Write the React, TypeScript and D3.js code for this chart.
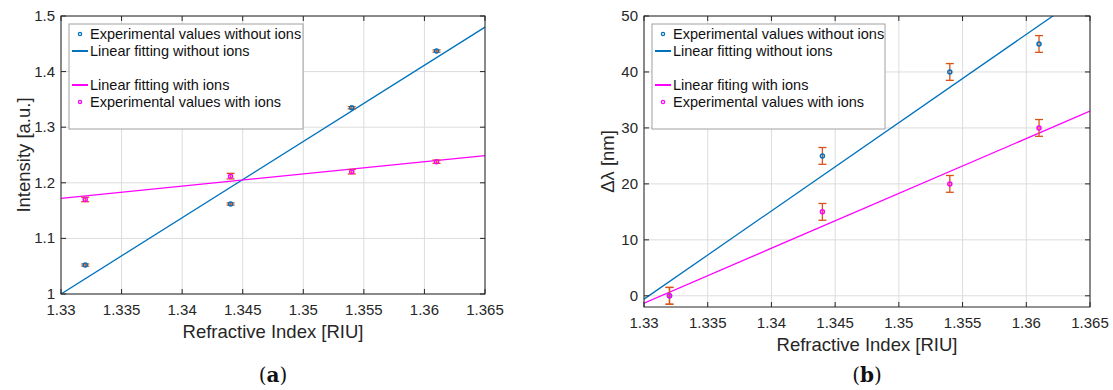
import * as d3 from 'd3';
import React from 'react';

// refractive index samples (shared by both panels)
const ri = [1.332, 1.344, 1.354, 1.361];

// panel (a): intensity
const intensityNoIons = [1.052, 1.162, 1.335, 1.437];
const intensityNoIonsErr = [0.002, 0.002, 0.002, 0.002];
const intensityIons = [1.17, 1.212, 1.22, 1.238];
const intensityIonsErr = [0.004, 0.005, 0.004, 0.003];
const fitIntensityNoIons = [1.0, 1.48];
const fitIntensityIons = [1.172, 1.249];

// panel (b): wavelength shift
const shiftNoIons = [0, 25, 40, 45];
const shiftIons = [0, 15, 20, 30];
const shiftErr = [1.5, 1.5, 1.5, 1.5];
const fitShiftNoIons = [-0.6, 54.6];
const fitShiftIons = [-1.3, 33];

const xTicks = [1.33, 1.335, 1.34, 1.345, 1.35, 1.355, 1.36, 1.365];
const yTicksA = [1, 1.1, 1.2, 1.3, 1.4, 1.5];
const yTicksB = [0, 10, 20, 30, 40, 50];

const legendA = ['Experimental values without ions', 'Linear fitting without ions', 'Linear fitting with ions', 'Experimental values with ions'];
const legendB = ['Experimental values without ions', 'Linear fitting without ions', 'Linear fiting with ions', 'Experimental values with ions'];

const BLUE = '#0072BD';
const MAGENTA = '#FF00FF';
const ORANGE = '#D95319';
const AXIS = '#262626';
const FONT = '"Liberation Sans", Arial, sans-serif';

type PanelProps = {
  left: number;
  right: number;
  top: number;
  bottom: number;
  yDomain: [number, number];
  yTicks: number[];
  ylabel: string;
  ylabelX: number;
  noIons: number[];
  noIonsErr: number[];
  ions: number[];
  ionsErr: number[];
  fitNo: number[];
  fitIons: number[];
  legend: string[];
  legendW: number;
  caption: string;
  clipId: string;
};

function Panel(p: PanelProps) {
  const x = d3.scaleLinear().domain([1.33, 1.365]).range([p.left, p.right]);
  const y = d3.scaleLinear().domain(p.yDomain).range([p.bottom, p.top]);
  const line = d3
    .line<[number, number]>()
    .x((d) => x(d[0]))
    .y((d) => y(d[1]));
  const cap = 4;

  const errorBars = (vals: number[], errs: number[]) =>
    ri.map((r, i) => {
      const cx = x(r);
      const y0 = y(vals[i] - errs[i]);
      const y1 = y(vals[i] + errs[i]);
      return (
        <g key={i} stroke={ORANGE} strokeWidth={1.3}>
          <line x1={cx} x2={cx} y1={y0} y2={y1} />
          <line x1={cx - cap} x2={cx + cap} y1={y0} y2={y0} />
          <line x1={cx - cap} x2={cx + cap} y1={y1} y2={y1} />
        </g>
      );
    });

  const markers = (vals: number[], color: string) =>
    ri.map((r, i) => <circle key={i} cx={x(r)} cy={y(vals[i])} r={2} fill="none" stroke={color} strokeWidth={1.5} />);

  const lx = p.left + 8;
  const ly = p.top + 8;
  const rows = [15, 32, 66, 83];

  return (
    <g>
      <defs>
        <clipPath id={p.clipId}>
          <rect x={p.left} y={p.top} width={p.right - p.left} height={p.bottom - p.top} />
        </clipPath>
      </defs>
      {/* grid */}
      <g stroke="#dcdcdc" strokeWidth={1}>
        {xTicks.map((t) => (
          <line key={'gx' + t} x1={x(t)} x2={x(t)} y1={p.top} y2={p.bottom} />
        ))}
        {p.yTicks.map((t) => (
          <line key={'gy' + t} x1={p.left} x2={p.right} y1={y(t)} y2={y(t)} />
        ))}
      </g>
      {/* fits */}
      <g clipPath={`url(#${p.clipId})`} fill="none" strokeWidth={1.3}>
        <path d={line([[1.33, p.fitNo[0]], [1.365, p.fitNo[1]]]) || ''} stroke={BLUE} />
        <path d={line([[1.33, p.fitIons[0]], [1.365, p.fitIons[1]]]) || ''} stroke={MAGENTA} />
      </g>
      {errorBars(p.noIons, p.noIonsErr)}
      {errorBars(p.ions, p.ionsErr)}
      {markers(p.noIons, BLUE)}
      {markers(p.ions, MAGENTA)}
      {/* axes box with inward ticks */}
      <rect x={p.left} y={p.top} width={p.right - p.left} height={p.bottom - p.top} fill="none" stroke={AXIS} strokeWidth={1} />
      <g stroke={AXIS} strokeWidth={1}>
        {xTicks.map((t) => (
          <g key={'tx' + t}>
            <line x1={x(t)} x2={x(t)} y1={p.bottom} y2={p.bottom - 5} />
            <line x1={x(t)} x2={x(t)} y1={p.top} y2={p.top + 5} />
          </g>
        ))}
        {p.yTicks.map((t) => (
          <g key={'ty' + t}>
            <line x1={p.left} x2={p.left + 5} y1={y(t)} y2={y(t)} />
            <line x1={p.right} x2={p.right - 5} y1={y(t)} y2={y(t)} />
          </g>
        ))}
      </g>
      <g fill={AXIS} fontFamily={FONT} fontSize={15}>
        {xTicks.map((t) => (
          <text key={'lx' + t} x={x(t)} y={p.bottom + 21} textAnchor="middle">
            {String(t)}
          </text>
        ))}
        {p.yTicks.map((t) => (
          <text key={'ly' + t} x={p.left - 6} y={y(t) + 5} textAnchor="end">
            {String(t)}
          </text>
        ))}
        <text x={(p.left + p.right) / 2} y={p.bottom + 44} textAnchor="middle" fontSize={18.5}>
          Refractive Index [RIU]
        </text>
        <text
          transform={`translate(${p.ylabelX},${(p.top + p.bottom) / 2}) rotate(-90)`}
          textAnchor="middle"
          fontSize={18.5}
        >
          {p.ylabel}
        </text>
      </g>
      <text
        x={(p.left + p.right) / 2}
        y={382}
        textAnchor="middle"
        fontFamily='"DejaVu Serif", "Liberation Serif", serif'
        fontSize={20}
        fill="#111"
      >
        (<tspan fontWeight="bold">{p.caption}</tspan>)
      </text>
      {/* legend */}
      <rect x={lx} y={ly} width={p.legendW} height={105} fill="#fff" stroke="#a0a0a0" strokeWidth={1} />
      <circle cx={lx + 11} cy={ly + rows[0] - 5} r={1.6} fill="none" stroke={BLUE} strokeWidth={1.3} />
      <line x1={lx + 3} x2={lx + 19} y1={ly + rows[1] - 5} y2={ly + rows[1] - 5} stroke={BLUE} strokeWidth={2} />
      <line x1={lx + 3} x2={lx + 19} y1={ly + rows[2] - 5} y2={ly + rows[2] - 5} stroke={MAGENTA} strokeWidth={2} />
      <circle cx={lx + 11} cy={ly + rows[3] - 5} r={1.6} fill="none" stroke={MAGENTA} strokeWidth={1.3} />
      <g fontFamily={FONT} fontSize={14.5} fill="#111">
        {p.legend.map((s, i) => (
          <text key={s} x={lx + 21} y={ly + rows[i]}>
            {s}
          </text>
        ))}
      </g>
    </g>
  );
}

export default function App() {
  return (
    <svg width={1113} height={390} style={{ display: 'block', position: 'absolute', left: 0, top: 0 }}>
      <rect width={1113} height={390} fill="#fff" />
      <Panel
        left={61}
        right={485}
        top={16}
        bottom={294}
        yDomain={[1, 1.5]}
        yTicks={yTicksA}
        ylabel="Intensity [a.u.]"
        ylabelX={30}
        noIons={intensityNoIons}
        noIonsErr={intensityNoIonsErr}
        ions={intensityIons}
        ionsErr={intensityIonsErr}
        fitNo={fitIntensityNoIons}
        fitIons={fitIntensityIons}
        legend={legendA}
        legendW={234}
        caption="a"
        clipId="clipA"
      />
      <Panel
        left={644}
        right={1090}
        top={16}
        bottom={307}
        yDomain={[-2, 50]}
        yTicks={yTicksB}
        ylabel="Δλ [nm]"
        ylabelX={614}
        noIons={shiftNoIons}
        noIonsErr={shiftErr}
        ions={shiftIons}
        ionsErr={shiftErr}
        fitNo={fitShiftNoIons}
        fitIons={fitShiftIons}
        legend={legendB}
        legendW={233}
        caption="b"
        clipId="clipB"
      />
    </svg>
  );
}
